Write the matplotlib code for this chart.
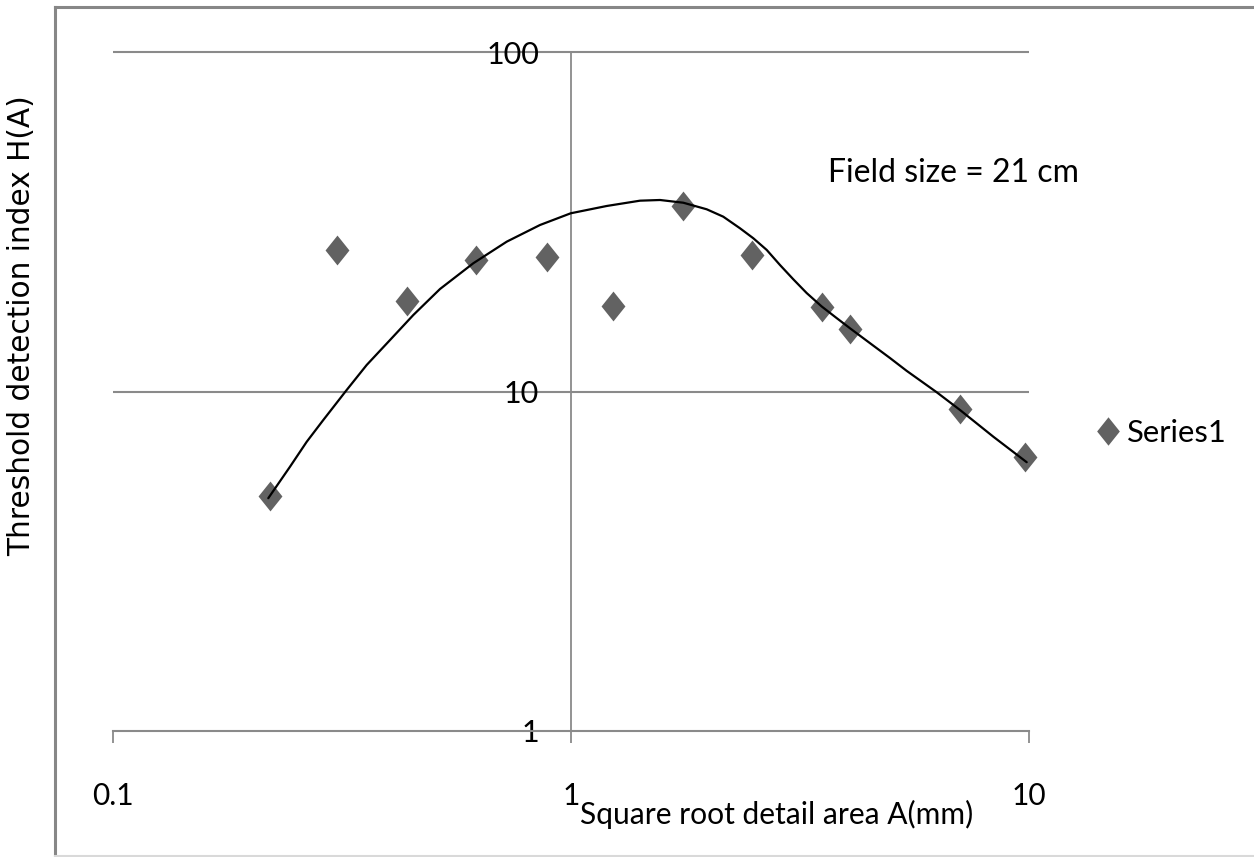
import matplotlib
matplotlib.use("Agg")
import matplotlib.pyplot as plt
from matplotlib.path import Path
from matplotlib.lines import Line2D
from matplotlib.ticker import FixedLocator, FixedFormatter, NullLocator

# ---- data ----
area_x = [0.220, 0.309, 0.439, 0.619, 0.888, 1.237, 1.759, 2.48, 3.53, 4.07, 7.07, 9.80]
index_y = [4.92, 26.1, 18.5, 24.4, 24.9, 17.9, 35.2, 25.2, 17.7, 15.3, 8.86, 6.40]

# trend curve
curve_x = [0.2183, 0.2434, 0.2648, 0.2878, 0.3237, 0.3580, 0.4026, 0.4526, 0.5176,
           0.6118, 0.7240, 0.8555, 0.9985, 1.1964, 1.4145, 1.5644, 1.7588, 1.9785,
           2.150, 2.339, 2.501, 2.675, 2.859, 3.058, 3.270, 3.527, 3.803, 4.067,
           4.571, 4.971, 5.408, 6.287, 7.070, 8.358, 9.886]
curve_y = [4.85, 6.00, 7.11, 8.24, 10.10, 11.97, 14.18, 16.80, 20.04,
           23.86, 27.63, 30.93, 33.49, 35.19, 36.48, 36.65, 35.98, 34.41,
           32.73, 30.25, 28.27, 26.12, 23.59, 21.40, 19.50, 17.80, 16.45, 15.35,
           13.65, 12.55, 11.50, 9.95, 8.82, 7.36, 6.19]

x_ticks = [0.1, 1, 10]
x_tick_labels = ["0.1", "1", "10"]
y_ticks = [1, 10, 100]
y_tick_labels = ["1", "10", "100"]

x_label = "Square root detail area A(mm)"
y_label = "Threshold detection index H(A)"
note = "Field size = 21 cm"
series_name = "Series1"

CAL = ["Lato", "DejaVu Sans"]
GRID = "#8a8a8a"
MARK = "#626262"

W, H = 1254, 857
fig = plt.figure(figsize=(W / 100, H / 100), dpi=100)

# outer chart-area border
fig.add_artist(Line2D([55 / W, 55 / W], [1 - 856 / H, 1 - 7 / H], color="#878787", lw=2.2))
fig.add_artist(Line2D([55 / W, 1.0], [1 - 7 / H, 1 - 7 / H], color="#878787", lw=2.2))
fig.add_artist(Line2D([55 / W, 1.0], [1 - 856 / H, 1 - 856 / H], color="#d9d9d9", lw=1.5))

ax = fig.add_axes([113 / W, 1 - 731 / H, (1029 - 113) / W, (731 - 52) / H])
ax.set_xscale("log")
ax.set_yscale("log")
ax.set_xlim(0.1, 10)
ax.set_ylim(1, 100)

for s in ("top", "right"):
    ax.spines[s].set_visible(False)
ax.spines["left"].set_position(("data", 1))
ax.spines["left"].set_color(GRID)
ax.spines["left"].set_linewidth(1.3)
ax.spines["bottom"].set_color(GRID)
ax.spines["bottom"].set_linewidth(1.5)

# horizontal gridlines
ax.hlines(y_ticks[1:], 0.1, 10, colors=GRID, lw=1.5, clip_on=False, zorder=1)

ax.xaxis.set_major_locator(FixedLocator(x_ticks))
ax.xaxis.set_major_formatter(FixedFormatter(x_tick_labels))
ax.xaxis.set_minor_locator(NullLocator())
ax.yaxis.set_major_locator(FixedLocator(y_ticks))
ax.yaxis.set_major_formatter(FixedFormatter(y_tick_labels))
ax.yaxis.set_minor_locator(NullLocator())

ax.tick_params(axis="x", direction="out", length=8.5, width=1.3, color=GRID, pad=28.5,
               labelsize=21.5)
ax.tick_params(axis="y", length=0, pad=23, labelsize=22)
for lab in ax.get_xticklabels() + ax.get_yticklabels():
    lab.set_family(CAL)

diamond = Path([(0, 1), (0.8, 0), (0, -1), (-0.8, 0), (0, 1)],
               [Path.MOVETO, Path.LINETO, Path.LINETO, Path.LINETO, Path.CLOSEPOLY])

ax.plot(curve_x, curve_y, color="black", lw=1.6, zorder=4, clip_on=False,
        solid_joinstyle="round", solid_capstyle="round")
ax.plot(area_x, index_y, linestyle="none", marker=diamond, markersize=21.5,
        color=MARK, markeredgewidth=0, zorder=3, clip_on=False, label=series_name)

fig.text(580 / W, 1 - 824 / H, x_label, family=CAL, fontsize=21.6, ha="left", va="baseline")
fig.text(22 / W, 1 - 326 / H, y_label, family="DejaVu Sans", fontsize=21.3,
         rotation=90, ha="center", va="center")
fig.text(828 / W, 1 - 182 / H, note, family=CAL, fontsize=23, ha="left", va="baseline")

leg = ax.legend(loc="center left", bbox_to_anchor=(1099 / W, 1 - 433 / H),
                bbox_transform=fig.transFigure, frameon=False, handlelength=0.6,
                handletextpad=0.3, borderpad=0, borderaxespad=0,
                prop={"family": CAL, "size": 22.3}, markerscale=0.95)

fig.savefig("out.png", dpi=100)
